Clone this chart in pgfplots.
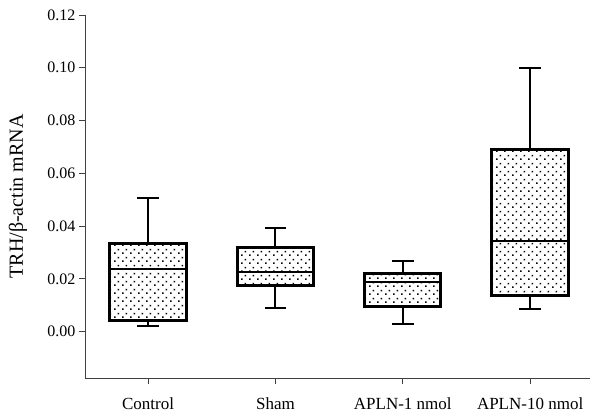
\documentclass[border=0pt]{standalone}
\usepackage{fontspec}
\setmainfont{Liberation Serif}
\usepackage{pgfplots}
\pgfplotsset{compat=1.18}
\usetikzlibrary{patterns.meta}

% staggered dot fill like the reference
\tikzdeclarepattern{
  name=boxdots,
  type=uncolored,
  bounding box={(0pt,0pt) and (7.5pt,7.5pt)},
  tile size={(7.5pt,7.5pt)},
  code={
    \fill (1.1pt,1.1pt) rectangle (2.7pt,2.7pt);
    \fill (4.85pt,4.85pt) rectangle (6.45pt,6.45pt);
  }
}

\begin{document}
\begin{tikzpicture}[
    box/.style={draw=black, line width=3pt, pattern=boxdots, mark=none},
    med/.style={draw=black, line width=2pt, mark=none},
    whisk/.style={draw=black, line width=2pt, mark=none},
  ]
  \begin{axis}[
    name=ax,
    scale only axis,
    width=505pt, height=363pt,
    xmin=0.505, xmax=4.47,
    ymin=-0.0176, ymax=0.12,
    axis lines=left,
    axis line style={-, black!75, line width=0.9pt},
    tick style={black!75, line width=0.9pt},
    tick align=outside,
    major tick length=6pt,
    xtick={1,2,3,4},
    xticklabels={Control, Sham, APLN-1 nmol, APLN-10 nmol},
    ytick={0,0.02,0.04,0.06,0.08,0.10,0.12},
    /pgf/number format/fixed,
    /pgf/number format/fixed zerofill,
    /pgf/number format/precision=2,
    /pgf/number format/assume math mode=true,
    yticklabel style={font=\fontsize{16}{19}\selectfont},
    xticklabel style={font=\fontsize{17}{20}\selectfont, yshift=-10pt},
    every axis y label/.style={at={(axis description cs:0,0.5)}, xshift=-67pt, rotate=90, anchor=center},
    ylabel={\fontsize{20}{24}\selectfont TRH/β-actin mRNA},
  ]
    % Control: whiskers 0.0023/0.0506, box 0.0042-0.0335, median 0.0237
    \addplot[whisk] coordinates {(1,0.0335) (1,0.0506)};
    \addplot[whisk] coordinates {(0.915,0.0506) (1.085,0.0506)};
    \addplot[whisk] coordinates {(1,0.0042) (1,0.0023)};
    \addplot[whisk] coordinates {(0.915,0.0023) (1.085,0.0023)};
    \addplot[box] coordinates {(0.7,0.0042) (1.3,0.0042) (1.3,0.0335) (0.7,0.0335)} -- cycle;
    \addplot[med] coordinates {(0.7,0.0237) (1.3,0.0237)};

    % Sham: whiskers 0.0089/0.0392, box 0.0175-0.0320, median 0.0224
    \addplot[whisk] coordinates {(2,0.0320) (2,0.0392)};
    \addplot[whisk] coordinates {(1.915,0.0392) (2.085,0.0392)};
    \addplot[whisk] coordinates {(2,0.0175) (2,0.0089)};
    \addplot[whisk] coordinates {(1.915,0.0089) (2.085,0.0089)};
    \addplot[box] coordinates {(1.7,0.0175) (2.3,0.0175) (2.3,0.0320) (1.7,0.0320)} -- cycle;
    \addplot[med] coordinates {(1.7,0.0224) (2.3,0.0224)};

    % APLN-1 nmol: whiskers 0.0028/0.0268, box 0.0095-0.0222, median 0.0187
    \addplot[whisk] coordinates {(3,0.0222) (3,0.0268)};
    \addplot[whisk] coordinates {(2.915,0.0268) (3.085,0.0268)};
    \addplot[whisk] coordinates {(3,0.0095) (3,0.0028)};
    \addplot[whisk] coordinates {(2.915,0.0028) (3.085,0.0028)};
    \addplot[box] coordinates {(2.7,0.0095) (3.3,0.0095) (3.3,0.0222) (2.7,0.0222)} -- cycle;
    \addplot[med] coordinates {(2.7,0.0187) (3.3,0.0187)};

    % APLN-10 nmol: whiskers 0.0087/0.1000, box 0.0135-0.0691, median 0.0345
    \addplot[whisk] coordinates {(4,0.0691) (4,0.1000)};
    \addplot[whisk] coordinates {(3.915,0.1000) (4.085,0.1000)};
    \addplot[whisk] coordinates {(4,0.0135) (4,0.0087)};
    \addplot[whisk] coordinates {(3.915,0.0087) (4.085,0.0087)};
    \addplot[box] coordinates {(3.7,0.0135) (4.3,0.0135) (4.3,0.0691) (3.7,0.0691)} -- cycle;
    \addplot[med] coordinates {(3.7,0.0345) (4.3,0.0345)};
  \end{axis}
  \pgfresetboundingbox
  \path ([shift={(-85pt,-38pt)}]ax.south west) rectangle ([shift={(0pt,15pt)}]ax.north east);
\end{tikzpicture}
\end{document}
